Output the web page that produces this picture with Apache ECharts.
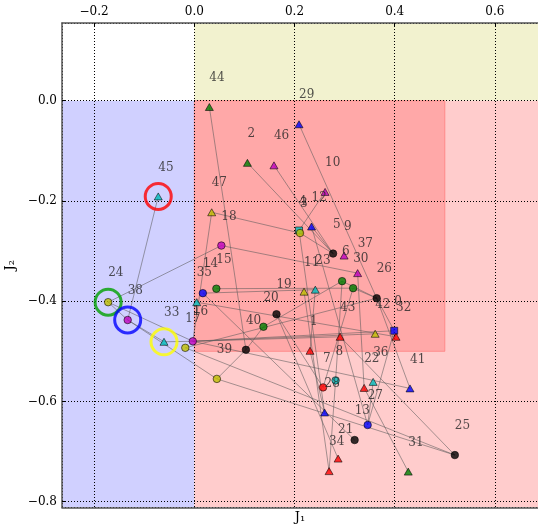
<!DOCTYPE html>
<html>
<head>
<meta charset="utf-8">
<script src="https://cdn.jsdelivr.net/npm/echarts@6/dist/echarts.min.js"></script>
<style>
  html, body { margin: 0; padding: 0; background: #fff; }
  #chart { width: 538px; height: 526px; }
</style>
</head>
<body>
<div id="chart"></div>
<script>
// Node coordinates in the (J1, J2) plane, indexed by node id 0..47
const nodeJ1 = [
  0.399, 0.231, 0.106, 0.211, 0.209, 0.277, 0.295, 0.257, 0.282, 0.299,
  0.261, 0.219, 0.234, 0.320, 0.017, 0.044, -0.003, -0.018, 0.054, 0.164,
  0.138, 0.287, 0.339, 0.2415, -0.172, 0.520, 0.364, 0.346, 0.260, 0.209,
  0.317, 0.427, 0.4026, -0.0605, 0.269, 0.0048, 0.357, 0.326, -0.133, 0.045,
  0.103, 0.4305, 0.361, 0.291, 0.030, -0.072, 0.159, 0.0347
];
const nodeJ2 = [
  -0.459, -0.499, -0.124, -0.264, -0.259, -0.305, -0.360, -0.572, -0.558, -0.309,
  -0.182, -0.381, -0.251, -0.677, -0.384, -0.375, -0.480, -0.493, -0.289, -0.426,
  -0.451, -0.714, -0.573, -0.377, -0.402, -0.707, -0.394, -0.647, -0.622, -0.047,
  -0.374, -0.740, -0.471, -0.481, -0.739, -0.402, -0.561, -0.344, -0.4375, -0.555,
  -0.497, -0.574, -0.465, -0.471, -0.0126, -0.191, -0.129, -0.2226
];
// Marker shape per node: s = square, o = circle, ^ = triangle
const nodeShape = [
  's', '^', '^', 'o', 's', 'o', 'o', 'o', 'o', '^',
  '^', '^', '^', 'o', 'o', 'o', 'o', 'o', 'o', 'o',
  'o', '^', '^', '^', 'o', 'o', 'o', 'o', '^', '^',
  'o', '^', '^', '^', '^', '^', '^', '^', 'o', 'o',
  'o', '^', '^', '^', '^', '^', '^', '^'
];
// Marker colour code per node
const nodeColor = [
  'b', 'r', 'g', 'y', 'c', 'k', 'g', 'r', 'c', 'm',
  'm', 'y', 'b', 'k', 'b', 'g', 'm', 'y', 'm', 'k',
  'g', 'r', 'r', 'c', 'y', 'k', 'k', 'b', 'b', 'b',
  'g', 'g', 'r', 'c', 'r', 'c', 'c', 'm', 'm', 'y',
  'k', 'b', 'y', 'r', 'g', 'c', 'm', 'y'
];
// Connections between nodes
const edges = [
  [44, 40], [45, 38], [18, 24], [18, 37], [47, 3], [2, 5], [46, 5], [10, 4],
  [12, 5], [3, 5], [29, 26], [26, 41], [24, 38], [38, 33], [33, 16], [24, 16],
  [38, 39], [39, 40], [40, 20], [20, 6], [16, 0], [16, 43], [16, 41], [17, 26],
  [16, 42], [15, 30], [14, 23], [14, 13], [19, 21], [19, 7], [11, 34], [1, 28],
  [6, 8], [30, 7], [22, 31], [27, 36], [17, 25], [39, 25], [43, 25], [4, 28],
  [6, 26], [30, 26], [26, 0], [0, 27], [16, 47], [37, 22], [23, 1], [34, 8],
  [12, 27], [35, 32]
];
// Highlighted nodes with ring colours
const ringNodes = [45, 24, 38, 33];
const ringColors = ['#ff0000', '#00a000', '#0000ff', '#ffff00'];

// Shaded zones: [j1From, j2From, j1To, j2To, fill]
const zoneBounds = [
  [0, 0, 'max', 'max', '#f2f2cf'],
  ['min', 'min', 0, 0, '#d0d0ff'],
  [0, 'min', 'max', 0, '#ffcccc'],
  [0, -0.5, 0.5, 0, '#ffa8a8']
];

const palette = {
  b: '#0000ff', g: '#008000', r: '#ff0000', c: '#00bfbf',
  m: '#bf00bf', y: '#bfbf00', k: '#000000'
};
const symbolOf = { s: 'rect', o: 'circle', '^': 'triangle' };

const X_MIN = -0.2641, X_MAX = 0.686;
const Y_MIN = -0.8116, Y_MAX = 0.155;
const FONT = 'DejaVu Serif';

const fmt = v => v.toFixed(1).replace('-', '\u2212');

function nodeItems(shapes) {
  const out = [];
  for (let i = 0; i < nodeJ1.length; i++) {
    if (shapes.indexOf(nodeShape[i]) < 0) continue;
    out.push({
      value: [nodeJ1[i], nodeJ2[i], i],
      symbol: symbolOf[nodeShape[i]],
      symbolSize: nodeShape[i] === 's' ? 7 : (nodeShape[i] === 'o' ? 7.5 : [8, 7]),
      itemStyle: { color: palette[nodeColor[i]] }
    });
  }
  return out;
}

function resolve(v, lo, hi) { return v === 'min' ? lo : (v === 'max' ? hi : v); }

const zoneData = zoneBounds.map(z => [
  { coord: [resolve(z[0], X_MIN, X_MAX), resolve(z[1], Y_MIN, Y_MAX)],
    itemStyle: { color: z[4], opacity: 1,
      borderColor: z[4] === '#ffa8a8' ? 'rgba(255,110,110,0.6)' : 'transparent', borderWidth: 1 } },
  { coord: [resolve(z[2], X_MIN, X_MAX), resolve(z[3], Y_MIN, Y_MAX)] }
]);

const nodeLabel = {
  show: true,
  formatter: p => String(p.value[2]),
  position: 'inside',
  offset: [0, -29],
  align: 'left',
  verticalAlign: 'middle',
  fontFamily: FONT,
  fontSize: 12,
  color: '#262626'
};

const markerBase = {
  type: 'scatter',
  silent: true,
  itemStyle: { borderColor: '#000', borderWidth: 0.7 },
  label: nodeLabel,
  z: 3
};

const gridLine = { show: true, lineStyle: { color: '#000', type: [1, 2], width: 1 } };

const chart = echarts.init(document.getElementById('chart'), null, { renderer: 'canvas' });
chart.setOption({
  animation: false,
  backgroundColor: '#fff',
  grid: { left: 62, right: 0, top: 23, bottom: 18.5, outerBoundsMode: 'none', containLabel: false },
  xAxis: [
    {
      type: 'value', position: 'top', min: X_MIN, max: X_MAX, z: 1,
      minInterval: 0.2, maxInterval: 0.2,
      axisLine: { show: true, onZero: false, lineStyle: { color: '#555', width: 1.5 } },
      axisTick: { show: true, inside: true, length: 4, lineStyle: { color: '#000' } },
      axisLabel: { formatter: fmt, showMinLabel: false, showMaxLabel: false,
        fontFamily: FONT, fontSize: 12, color: '#000', margin: 5 },
      splitLine: gridLine
    },
    {
      type: 'value', position: 'bottom', min: X_MIN, max: X_MAX, z: 1,
      minInterval: 0.2, maxInterval: 0.2,
      name: 'J\u2081', nameLocation: 'middle', nameGap: 4,
      nameTextStyle: { fontFamily: FONT, fontSize: 13, color: '#000', verticalAlign: 'top' },
      axisLine: { show: true, onZero: false, lineStyle: { color: '#555', width: 1.5 } },
      axisTick: { show: false }, axisLabel: { show: false }, splitLine: { show: false }
    }
  ],
  yAxis: {
    type: 'value', min: Y_MIN, max: Y_MAX, z: 1,
    minInterval: 0.2, maxInterval: 0.2,
    name: 'J\u2082', nameLocation: 'middle', nameGap: 44,
    nameTextStyle: { fontFamily: FONT, fontSize: 13, color: '#000' },
    axisLine: { show: true, onZero: false, lineStyle: { color: '#555', width: 1.5 } },
    axisTick: { show: true, inside: true, length: 4, lineStyle: { color: '#000' } },
    axisLabel: { formatter: fmt, showMinLabel: false, showMaxLabel: false,
      fontFamily: FONT, fontSize: 12, color: '#000', margin: 5 },
    splitLine: gridLine
  },
  series: [
    {
      type: 'line', data: [], silent: true, z: 0,
      markArea: { silent: true, z: 0, data: zoneData }
    },
    {
      type: 'lines', coordinateSystem: 'cartesian2d', silent: true, z: 2,
      lineStyle: { color: '#5a5a5a', opacity: 0.55, width: 1 },
      data: edges.map(([a, b]) => ({ coords: [[nodeJ1[a], nodeJ2[a]], [nodeJ1[b], nodeJ2[b]]] }))
    },
    Object.assign({}, markerBase, { data: nodeItems(['s']) }),
    Object.assign({}, markerBase, { data: nodeItems(['o', '^']) }),
    {
      type: 'scatter', silent: true, z: 4,
      symbol: 'circle', symbolSize: 26,
      data: ringNodes.map((n, k) => ({
        value: [nodeJ1[n], nodeJ2[n]],
        itemStyle: { color: 'rgba(0,0,0,0)', borderColor: ringColors[k], borderWidth: 3 }
      }))
    }
  ]
});
</script>
</body>
</html>
